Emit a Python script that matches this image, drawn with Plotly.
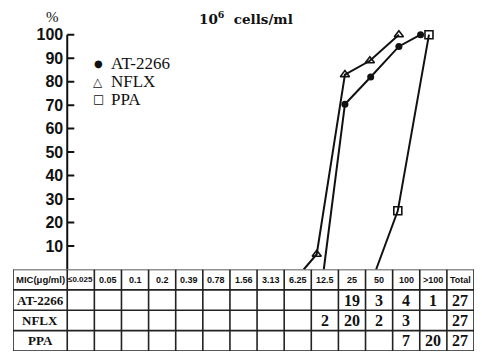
import plotly.graph_objects as go

# MIC dilution columns of the susceptibility table (µg/ml)
mic_labels = ["≤0.025", "0.05", "0.1", "0.2", "0.39", "0.78", "1.56", "3.13",
              "6.25", "12.5", "25", "50", "100", ">100", "Total"]
drug_names = ["AT-2266", "NFLX", "PPA"]

# strains per MIC column (None = empty cell); last entry is the total
at_counts = [None, None, None, None, None, None, None, None, None, None, 19, 3, 4, 1, 27]
nflx_counts = [None, None, None, None, None, None, None, None, None, 2, 20, 2, 3, None, 27]
ppa_counts = [None, None, None, None, None, None, None, None, None, None, None, None, 7, 20, 27]

# cumulative inhibition curves; x is measured in table columns (column k spans k..k+1)
at_x = [9.46, 10.24, 11.19, 12.23, 13.03]
at_pct = [0, 70.4, 82.0, 95.0, 100]
nflx_x = [8.72, 9.20, 10.24, 11.16, 12.23]
nflx_pct = [0, 6.5, 83.0, 88.9, 100]
ppa_x = [11.39, 12.19, 13.34]
ppa_pct = [0, 25.0, 100]

y_ticks = [10, 20, 30, 40, 50, 60, 70, 80, 90, 100]

W, H = 482, 354
L, R, T, B = 13, 8, 0, 3
PW, PH = W - L - R, H - T - B


def px(x):
    return (x - L) / PW


def py(y):
    return (H - B - y) / PH


TABLE_TOP = 269.5          # pixel row of 0 %
PX_PER_PCT = 2.348
split = py(TABLE_TOP)

INK = "#111111"
SERIF = "Liberation Serif, Times New Roman, serif"
SANS = "Liberation Sans, Arial, sans-serif"

fig = go.Figure()


def curve(xs, ys, name, symbol, size, lw):
    fig.add_trace(go.Scatter(
        x=xs, y=ys, name=name, mode="lines+markers",
        line=dict(color=INK, width=2),
        marker=dict(symbol=symbol, size=size, color=INK,
                    opacity=[0] + [1] * (len(xs) - 1),
                    line=dict(color=INK, width=lw)),
        showlegend=False, xaxis="x", yaxis="y", cliponaxis=False,
    ))


curve(nflx_x, nflx_pct, "NFLX", "triangle-up-open", 8, 1.6)
curve(at_x, at_pct, "AT-2266", "circle", 7, 0)
curve(ppa_x, ppa_pct, "PPA", "square-open", 8, 1.6)

n_cols = len(mic_labels)
shapes = []
# vertical axis line 0-100 % with short ticks pointing into the plot
shapes.append(dict(type="line", xref="x", yref="y", x0=0, x1=0, y0=0, y1=100,
                   line=dict(color=INK, width=2)))
for t in y_ticks:
    shapes.append(dict(type="line", xref="x", yref="y", x0=0, x1=0.26, y0=t, y1=t,
                       line=dict(color=INK, width=2)))
# table grid
for r in range(5):
    shapes.append(dict(type="line", xref="x", yref="y2", x0=-2, x1=n_cols, y0=r, y1=r,
                       line=dict(color="#222", width=1.6)))
for c in [-2] + list(range(n_cols + 1)):
    shapes.append(dict(type="line", xref="x", yref="y2", x0=c, x1=c, y0=0, y1=4,
                       line=dict(color="#222", width=1.6)))

ann = []
# header row
ann.append(dict(x=-1, y=0.5, xref="x", yref="y2", text="MIC(μg/ml)", showarrow=False,
                font=dict(family=SANS, size=9.5, color=INK, weight="bold")))
for k, lab in enumerate(mic_labels):
    ann.append(dict(x=k + 0.5, y=0.5, xref="x", yref="y2", text=lab, showarrow=False,
                    font=dict(family=SANS, size=8 if k == 0 else 9, color=INK,
                              weight="bold")))
# drug rows
for r, (name, counts) in enumerate(zip(drug_names, [at_counts, nflx_counts, ppa_counts])):
    ann.append(dict(x=-1, y=r + 1.5, xref="x", yref="y2", text=name, showarrow=False,
                    font=dict(family=SERIF, size=13, color=INK, weight="bold")))
    for k, v in enumerate(counts):
        if v is None:
            continue
        ann.append(dict(x=k + 0.5, y=r + 1.5, xref="x", yref="y2", text=str(v),
                        showarrow=False,
                        font=dict(family=SERIF, size=16, color=INK, weight="bold")))

# unit and title
ann.append(dict(x=px(52), y=py(17), xref="paper", yref="paper", text="%",
                xanchor="center", yanchor="middle", showarrow=False,
                font=dict(family=SERIF, size=15, color=INK)))
ann.append(dict(x=px(197), y=py(18), xref="paper", yref="paper",
                xanchor="left", yanchor="middle",
                text="10<sup>6</sup>  cells/ml", showarrow=False,
                font=dict(family="DejaVu Serif, serif", size=13.5, color=INK,
                          weight="bold")))

# key
key = [("●", "AT-2266", 64, 10), ("△", "NFLX", 81.5, 12), ("□", "PPA", 99, 12)]
for glyph, name, yy, gs in key:
    ann.append(dict(x=px(98), y=py(yy), xref="paper", yref="paper", text=glyph,
                    xanchor="center", yanchor="middle",
                    showarrow=False, font=dict(family="DejaVu Sans", size=gs, color=INK,
                                               weight="bold")))
    ann.append(dict(x=px(109), y=py(yy), xref="paper", yref="paper",
                    xanchor="left", yanchor="middle",
                    text=name, showarrow=False,
                    font=dict(family=SERIF, size=17, color=INK)))

fig.update_layout(
    width=W, height=H,
    margin=dict(l=L, r=R, t=T, b=B),
    paper_bgcolor="white", plot_bgcolor="white",
    xaxis=dict(range=[-2, n_cols], visible=False, fixedrange=True),
    yaxis=dict(domain=[split, 1], range=[0, TABLE_TOP / PX_PER_PCT],
               anchor="free", position=2 / (n_cols + 2), side="left",
               tickvals=y_ticks, ticks="", ticklabelstandoff=4,
               showline=False, showgrid=False, zeroline=False,
               tickfont=dict(family=SANS, size=16, color=INK, weight="bold")),
    yaxis2=dict(domain=[0, split], range=[4, 0], anchor="x",
                showticklabels=False, showgrid=False, zeroline=False, showline=False,
                ticks=""),
    shapes=shapes,
    annotations=ann,
)

fig.write_html("out.html")
